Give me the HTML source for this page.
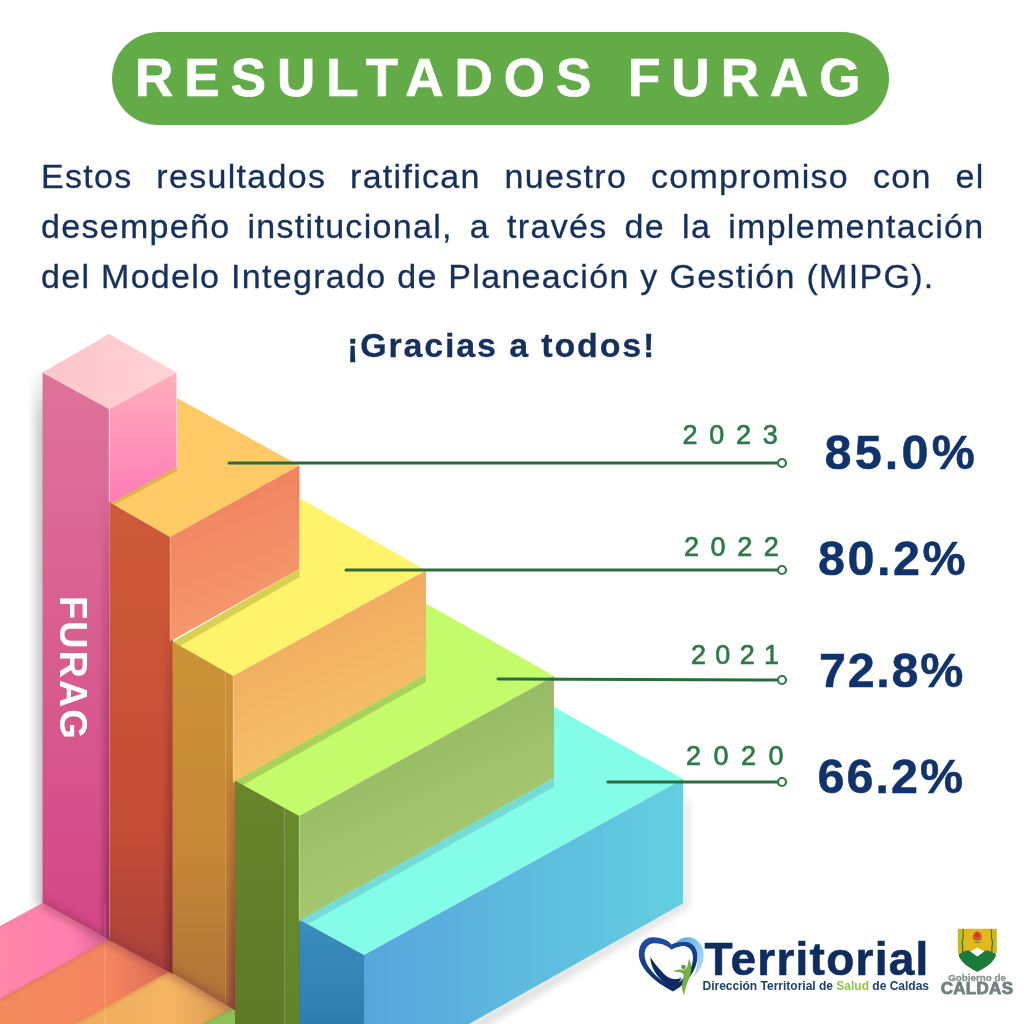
<!DOCTYPE html>
<html lang="es">
<head>
<meta charset="utf-8">
<title>Resultados FURAG</title>
<style>
  html, body { margin: 0; padding: 0; background: #ffffff; }
  body { width: 1024px; height: 1024px; position: relative; overflow: hidden;
         font-family: "Liberation Sans", sans-serif; }
  #stairs { position: absolute; left: 0; top: 0; width: 1024px; height: 1024px; }
  .banner { position: absolute; left: 112px; top: 32px; width: 777px; height: 93px;
            border-radius: 47px; background: #62ab46; }
  .banner span { position: absolute; left: 23px; top: -1.5px; line-height: 93px; white-space: nowrap;
            color: #fff; font-weight: bold; font-size: 53px; letter-spacing: 11px; -webkit-text-stroke: 0.7px #fff; }
  .body { position: absolute; left: 41px; top: 150.6px; width: 943.5px; color: #14305f;
          font-size: 34px; line-height: 50.3px; text-align: justify; letter-spacing: 1.3px; -webkit-text-stroke: 0.3px #14305f; }
  .body .l { display: block; text-align: justify; text-align-last: justify; white-space: nowrap; }
  .body .last { text-align-last: left; }
  .thanks { position: absolute; left: 347px; top: 325px; color: #14305f; font-weight: bold;
          font-size: 34px; line-height: 40px; white-space: nowrap; letter-spacing: 1.85px; -webkit-text-stroke: 0.3px #14305f; }
  .year { position: absolute; color: #2d7a45; font-size: 27px; line-height: 28px; letter-spacing: 11px; white-space: nowrap; -webkit-text-stroke: 0.65px #2d7a45; }
  .pct { position: absolute; color: #11336b; -webkit-text-stroke: 0.5px #11336b; font-weight: bold; font-size: 48.5px; line-height: 48px; white-space: nowrap; letter-spacing: 3.5px; }
  .furag { position: absolute; color: #fff; font-size: 38px; line-height: 38px; letter-spacing: 1.9px; white-space: nowrap; font-weight: bold;
           transform-origin: 0 0; transform: rotate(90deg); left: 91.5px; top: 595.5px; }
  .terr { position: absolute; left: 704.5px; top: 930.5px; color: #0e2c5e; font-weight: bold; font-size: 46px; line-height: 56px; white-space: nowrap; letter-spacing: 1.25px; -webkit-text-stroke: 0.6px #0e2c5e; }
  .dts { position: absolute; left: 702.5px; top: 978px; color: #1c4272; font-weight: bold; font-size: 12px; line-height: 16px; white-space: nowrap; }
  .dts b { color: #8cc63f; }
  .gob { position: absolute; left: 939px; top: 972px; width: 76px; text-align: center; color: #87938f; -webkit-text-stroke: 0.3px #87938f; font-weight: bold; font-size: 9.8px; line-height: 12px; white-space: nowrap; }
  .cal { position: absolute; left: 936px; top: 980.3px; width: 82px; text-align: center; color: #72817e; font-weight: bold; font-size: 17px; line-height: 17px; white-space: nowrap; letter-spacing: 0.3px; -webkit-text-stroke: 0.8px #72817e; }
</style>
</head>
<body>

<svg id="stairs" width="1024" height="1024" viewBox="0 0 1024 1024">
  <defs>
    <linearGradient id="gPinkL" x1="0" y1="0" x2="0" y2="1"><stop offset="0" stop-color="#de7399"/><stop offset="1" stop-color="#d34686"/></linearGradient>
    <linearGradient id="gPinkR" gradientUnits="userSpaceOnUse" x1="0" y1="375" x2="0" y2="500"><stop offset="0" stop-color="#ffaebb"/><stop offset="1" stop-color="#ff7cb6"/></linearGradient>
    <linearGradient id="gPinkT" x1="0" y1="0" x2="1" y2="0"><stop offset="0" stop-color="#fcc4cb"/><stop offset="1" stop-color="#ffd3d6"/></linearGradient>
    <linearGradient id="gOrL" x1="0" y1="0" x2="0" y2="1"><stop offset="0" stop-color="#cd5a38"/><stop offset="0.7" stop-color="#c44d36"/><stop offset="1" stop-color="#a9413a"/></linearGradient>
    <linearGradient id="gOrR" x1="0" y1="0" x2="0.3" y2="1"><stop offset="0" stop-color="#ef7b5e"/><stop offset="1" stop-color="#f59b6c"/></linearGradient>
    <linearGradient id="gYeL" x1="0" y1="0" x2="0" y2="1"><stop offset="0" stop-color="#cc9336"/><stop offset="0.6" stop-color="#c38637"/><stop offset="1" stop-color="#ae7238"/></linearGradient>
    <linearGradient id="gYeR" x1="0" y1="0" x2="0.4" y2="1"><stop offset="0" stop-color="#eea05d"/><stop offset="1" stop-color="#f6c469"/></linearGradient>
    <linearGradient id="gGrL" x1="0" y1="0" x2="0" y2="1"><stop offset="0" stop-color="#67862c"/><stop offset="1" stop-color="#5d7a27"/></linearGradient>
    <linearGradient id="gGrR" x1="0" y1="0" x2="0.5" y2="1"><stop offset="0" stop-color="#8db35e"/><stop offset="1" stop-color="#aacb72"/></linearGradient>
    <linearGradient id="gCyL" x1="0" y1="0" x2="0" y2="1"><stop offset="0" stop-color="#3a8dbd"/><stop offset="1" stop-color="#2f7dad"/></linearGradient>
    <linearGradient id="gCyR" x1="0" y1="0" x2="1" y2="0"><stop offset="0" stop-color="#58a5dc"/><stop offset="1" stop-color="#63cfe0"/></linearGradient>
    <linearGradient id="gShL" x1="0" y1="0" x2="1" y2="0"><stop offset="0" stop-color="#000" stop-opacity="0"/><stop offset="1" stop-color="#000" stop-opacity="0.22"/></linearGradient>
    <linearGradient id="gRefP" x1="1" y1="0" x2="0" y2="0"><stop offset="0" stop-color="#e0689a"/><stop offset="0.35" stop-color="#ff7fae"/><stop offset="1" stop-color="#ff85a8"/></linearGradient>
    <linearGradient id="gRefO" x1="1" y1="0" x2="0" y2="0"><stop offset="0" stop-color="#d96a55"/><stop offset="0.35" stop-color="#f5855f"/><stop offset="1" stop-color="#f28a5a"/></linearGradient>
    <linearGradient id="gRefY" x1="1" y1="0" x2="0" y2="0"><stop offset="0" stop-color="#d99a50"/><stop offset="0.4" stop-color="#f3b463"/><stop offset="1" stop-color="#f0ac5e"/></linearGradient>
    <linearGradient id="gAO" x1="0" y1="0" x2="1" y2="0"><stop offset="0" stop-color="#501030" stop-opacity="0"/><stop offset="1" stop-color="#501030" stop-opacity="0.55"/></linearGradient>
    <linearGradient id="gFade" x1="0" y1="0" x2="0" y2="1"><stop offset="0" stop-color="#000"/><stop offset="0.1" stop-color="#fff"/><stop offset="0.97" stop-color="#fff"/><stop offset="1" stop-color="#000"/></linearGradient>
    <mask id="mFade" maskUnits="userSpaceOnUse" x="0" y="360" width="60" height="560"><rect x="0" y="366" width="60" height="548" fill="url(#gFade)"/></mask>
    <linearGradient id="gV1" gradientUnits="userSpaceOnUse" x1="0" y1="490" x2="0" y2="940"><stop offset="0" stop-color="#000"/><stop offset="0.15" stop-color="#555"/><stop offset="1" stop-color="#fff"/></linearGradient>
    <linearGradient id="gV2" gradientUnits="userSpaceOnUse" x1="0" y1="620" x2="0" y2="972"><stop offset="0" stop-color="#000"/><stop offset="0.15" stop-color="#555"/><stop offset="1" stop-color="#fff"/></linearGradient>
    <linearGradient id="gV3" gradientUnits="userSpaceOnUse" x1="0" y1="760" x2="0" y2="1010"><stop offset="0" stop-color="#000"/><stop offset="0.15" stop-color="#555"/><stop offset="1" stop-color="#fff"/></linearGradient>
    <mask id="mV1" maskUnits="userSpaceOnUse" x="80" y="470" width="40" height="480"><rect x="80" y="470" width="40" height="480" fill="url(#gV1)"/></mask>
    <mask id="mV2" maskUnits="userSpaceOnUse" x="140" y="590" width="40" height="400"><rect x="140" y="590" width="40" height="400" fill="url(#gV2)"/></mask>
    <mask id="mV3" maskUnits="userSpaceOnUse" x="200" y="730" width="40" height="300"><rect x="200" y="730" width="40" height="300" fill="url(#gV3)"/></mask>
    <filter id="blur6" x="-20%" y="-20%" width="140%" height="140%"><feGaussianBlur stdDeviation="4"/></filter>
    <filter id="blur1" x="-20%" y="-20%" width="140%" height="140%"><feGaussianBlur stdDeviation="1.2"/></filter>
    <filter id="blur2" x="-20%" y="-20%" width="140%" height="140%"><feGaussianBlur stdDeviation="3.5"/></filter>
  </defs>

  <!-- soft shadows -->
  <polygon points="683,795 688,802 688,906 478,1030 460,1030 683,902" fill="#000" opacity="0.16" filter="url(#blur6)"/>
  <rect x="28" y="366" width="15" height="548" fill="url(#gShL)" mask="url(#mFade)"/>

  <!-- floor reflections -->
  <polygon points="42.5,903 109,940 0,1000 0,926" fill="url(#gRefP)"/>
  <polygon points="109,939 170,972 76,1024 0,1024 0,999" fill="url(#gRefO)"/>
  <polygon points="170,971 233,1008 204,1024 74,1024" fill="url(#gRefY)"/>
  <polygon points="233,1007 262,1024 202,1024" fill="#8fbf5a"/>
  <g stroke-width="2.5" opacity="0.35" filter="url(#blur1)" fill="none">
    <line x1="109" y1="940" x2="0" y2="1000" stroke="#c05a70"/>
    <line x1="170" y1="972" x2="76" y2="1024" stroke="#c06a40"/>
    <line x1="233" y1="1008" x2="204" y2="1024" stroke="#a08040"/>
  </g>

  <!-- pink column -->
  <polygon points="42.5,372.5 109,409 111,409 111,941 42.5,903" fill="url(#gPinkL)"/>
  <polygon points="99,480 111,480 111,941 99,934.3" fill="url(#gAO)" mask="url(#mV1)"/>
  <polygon points="109,409 176.5,372.5 176.5,480 109.5,510" fill="url(#gPinkR)"/>
  <line x1="109.3" y1="409" x2="109.3" y2="502" stroke="#fff" stroke-width="1" opacity="0.85"/>
  <polygon points="109,334 42.5,372.5 109,409 176.5,372.5" fill="url(#gPinkT)"/>

  <!-- orange step -->
  <polygon points="111,503 170,537 299.5,465.5 177,398 177,467" fill="#fdca66"/>
  <polygon points="111,503 177,467 177,471 114,505" fill="#dcb646"/>
  <polygon points="109,502 170,537 173,537 173,974 109,940" fill="url(#gOrL)"/>
  <polygon points="162,600 173,600 173,974 162,967.8" fill="url(#gAO)" mask="url(#mV2)"/>
  <polygon points="170,537 299.5,465.5 299.5,569 170,641.5" fill="url(#gOrR)"/>
  <line x1="170.3" y1="537" x2="170.3" y2="640" stroke="#ffb08a" stroke-width="1" opacity="0.8"/>

  <line x1="109.6" y1="503" x2="109.6" y2="939" stroke="#f3a08c" stroke-width="1" opacity="0.6"/>
  <!-- yellow step -->
  <polygon points="172.5,642 233,676 426,570.5 299.5,498 299.5,569" fill="#fff36c"/>
  <polygon points="172.5,642 299.5,569 299.5,577 180,646" fill="#d9cf52"/>
  <polygon points="172.5,641.5 233,676 236,676 236,1011 172.5,973" fill="url(#gYeL)"/>
  <polygon points="224,740 236,740 236,1011 224,1004" fill="url(#gAO)" mask="url(#mV3)"/>
  <polygon points="233,676 426,570.5 426,674 233,783" fill="url(#gYeR)"/>
  <line x1="233.3" y1="676" x2="233.3" y2="780" stroke="#ffd08a" stroke-width="1" opacity="0.8"/>

  <!-- green step -->
  <polygon points="235,781 299,816 554,676 426,603.5 426,674" fill="#c4fb6b"/>
  <polygon points="235,781 426,674 426,682 243,785" fill="#a9d25b"/>
  <polygon points="235,780.5 299,816 301,816 301,1024 235,1024" fill="url(#gGrL)"/>
  <polygon points="285,808.3 299,816 299,1024 285,1024" fill="#6a8c2c" opacity="0.55"/>
  <polygon points="299,816 554,676 554,778 299,922" fill="url(#gGrR)"/>
  <line x1="299.3" y1="816" x2="299.3" y2="919" stroke="#c6e08a" stroke-width="1" opacity="0.8"/>

  <!-- cyan step -->
  <polygon points="300,920 364,955 683,779 554,707 554,778" fill="#84fde8"/>
  <polygon points="300,920 554,778 554,787 308,924" fill="#74dcd4"/>
  <polygon points="300,920 364,955 364,1024 300,1024" fill="url(#gCyL)"/>
  <polygon points="364,955 683,779 683,903.5 469,1024 364,1024" fill="url(#gCyR)"/>

  <g stroke="#fff" stroke-width="1" opacity="0.2">
    <line x1="225.5" y1="672" x2="225.5" y2="1004"/>
    <line x1="284.5" y1="808" x2="284.5" y2="1024"/>
    <line x1="105" y1="905" x2="105" y2="1024"/>
  </g>
  <polyline points="42.5,903 109,940 170,972 232,1007.5" fill="none" stroke="#7a3040" stroke-width="9" opacity="0.35" filter="url(#blur2)"/>
  <!-- leader lines -->
  <g stroke="#2b6b3d" stroke-width="3" stroke-linecap="round" fill="none">
    <line x1="229" y1="463" x2="777" y2="463"/>
    <line x1="346" y1="570" x2="777" y2="570"/>
    <line x1="498" y1="679" x2="777" y2="680"/>
    <line x1="608" y1="782" x2="777" y2="782"/>
  </g>
  <g stroke="#2d7a45" stroke-width="2.2" fill="#fff">
    <circle cx="782" cy="463" r="4"/>
    <circle cx="782" cy="570" r="4"/>
    <circle cx="782" cy="680" r="4"/>
    <circle cx="782" cy="782" r="4"/>
  </g>

  <!-- Territorial heart logo -->
  <defs>
    <linearGradient id="gHeart" x1="0" y1="0" x2="0.3" y2="1"><stop offset="0" stop-color="#2152a8"/><stop offset="1" stop-color="#0d2a66"/></linearGradient>
    <linearGradient id="gCres" x1="0" y1="0" x2="1" y2="0.6"><stop offset="0" stop-color="#4aa3e6"/><stop offset="1" stop-color="#a6d8f6"/></linearGradient>
  </defs>
  <g id="heartlogo">
    <path d="M674,945 C677,940.5 683,936.8 689,937.3 C697.5,938.2 703.8,945.5 703.7,955 C703.6,963.5 699.5,971.5 693.5,977 C697,969 698.8,960 697,952.5 C695,944.5 689,940.5 683,941.3 C679,941.8 676,943.2 674,945 Z" fill="url(#gCres)"/>
    <path fill-rule="evenodd" fill="url(#gHeart)" d="M671.5,944.5 C668,939.8 660,936.8 651.5,937.3 C643.5,938 638.6,945.5 638.8,954.5 C639.2,968 654,981.5 673,991.5 C680,987.5 689,980 693.5,971 C697,964.5 698.5,957 696.5,950.5 C694.5,944 688.5,941 683,941.5 C678,942 674,943 671.5,944.5 Z M671.5,949.8 C668.5,945.8 661,942.8 653.5,943.2 C647.5,943.8 644.4,949 644.6,955.5 C645,966 656,978.5 672.8,987.3 C680,982 688,975 691,967.5 C693.5,961.5 693.5,955 691.5,951 C689.5,947 685.5,945.5 682,946 C677.5,946.8 674,947.8 671.5,949.8 Z"/>
    <path d="M650.5,957 C650,968 659.5,981.5 672.8,987.6 C676.5,985.5 679.5,982.5 681.8,977.5 C676,980.5 669,979.5 663.5,973.5 C658,967.5 653,962 650.5,957 Z" fill="#0d2a66"/>
    <path d="M689,958.5 C691.6,964 692.2,971 689.6,977 C687.5,982.5 685,988 684,995.5 C681.6,990 681.4,984 683.2,978.5 C684.2,975 683.5,973.2 680.5,972.4 C678,971.7 675.5,971.5 672.8,972 C675.5,969.8 679,969.1 682,969.7 C685,970.3 686.6,969 687.4,966 C688.1,963.5 688.6,961 689,958.5 Z" fill="#76b043"/>
    <circle cx="683.5" cy="967" r="2.3" fill="#5b963f"/>
  </g>

  <!-- Caldas shield -->
  <defs>
    <clipPath id="cShield"><path d="M957.8,928.7 H996.8 V950 C996.8,960 988,966.5 977.3,971.8 C966.5,966.5 957.8,960 957.8,950 Z"/></clipPath>
    <linearGradient id="gShY" x1="0" y1="0" x2="1" y2="0"><stop offset="0" stop-color="#c4b62c"/><stop offset="0.16" stop-color="#cdb727"/><stop offset="0.2" stop-color="#e2b81a"/><stop offset="0.8" stop-color="#e2b81a"/><stop offset="0.84" stop-color="#cdb727"/><stop offset="1" stop-color="#c4b62c"/></linearGradient>
  </defs>
  <g clip-path="url(#cShield)">
    <rect x="957" y="928" width="41" height="45" fill="url(#gShY)"/>
    <path d="M963.8,929 C961.5,933 964.5,936 962.5,940 C960.8,944 964,947 962.5,952" stroke="#3c6a2c" stroke-width="1.1" fill="none"/>
    <path d="M990.8,929 C993.1,933 990.1,936 992.1,940 C993.8,944 990.6,947 992.1,952" stroke="#3c6a2c" stroke-width="1.1" fill="none"/>
    <path d="M956,957 C960,953.5 964,950.5 967.5,950.5 C970,950.5 972,952.5 977.3,956.3 C982.6,952.5 984.6,950.5 987.1,950.5 C990.6,950.5 994.6,953.5 998.6,957 V973 H956 Z" fill="#1d7a3d"/>
    <path d="M977.3,947.6 L984.2,951.6 L977.3,956.5 L970.4,951.6 Z" fill="#ffffff"/>
    <path d="M977.3,931.2 C979.6,931.2 981.8,934 981.8,937.2 C981.8,939.6 979.8,940.8 977.3,940.8 C974.8,940.8 972.8,939.6 972.8,937.2 C972.8,934 975,931.2 977.3,931.2 Z" fill="#e0512f"/>
    <path d="M977.3,932.5 C978.3,932.5 979.4,934.3 979.4,936 C979.4,937.2 978.4,937.8 977.3,937.8 C976.2,937.8 975.2,937.2 975.2,936 C975.2,934.3 976.3,932.5 977.3,932.5 Z" fill="#c43c2a"/>
    <path d="M972.8,942.6 C975,941.6 979.6,941.6 981.8,942.6 C979.6,943.2 975,943.2 972.8,942.6 Z" fill="#5f8f2c"/>
  </g>
</svg>

<div class="banner"><span>RESULTADOS FURAG</span></div>

<div class="body">
  <span class="l">Estos resultados ratifican nuestro compromiso con el</span>
  <span class="l">desempeño institucional, a través de la implementación</span>
  <span class="l last">del Modelo Integrado de Planeación y Gestión (MIPG).</span>
</div>
<div class="thanks">¡Gracias a todos!</div>

<div class="furag">FURAG</div>

<div class="year" id="y23" style="left:682.5px; top:421px; letter-spacing:11.7px;">2023</div>
<div class="year" id="y22" style="left:684px; top:533px; letter-spacing:11.6px;">2022</div>
<div class="year" id="y21" style="left:691px; top:641px; letter-spacing:9.3px;">2021</div>
<div class="year" id="y20" style="left:686px; top:742px; letter-spacing:12.5px;">2020</div>

<div class="pct" id="p85" style="left:824.5px; top:428px; letter-spacing:3.2px;">85.0%</div>
<div class="pct" id="p80" style="left:818px; top:534px; letter-spacing:2.5px;">80.2%</div>
<div class="pct" id="p72" style="left:819px; top:646px; letter-spacing:1.7px;">72.8%</div>
<div class="pct" id="p66" style="left:817.5px; top:752px; letter-spacing:2.0px;">66.2%</div>

<div class="terr">Territorial</div>
<div class="dts">Dirección Territorial de <b>Salud</b> de Caldas</div>
<div class="gob">Gobierno de</div>
<div class="cal">CALDAS</div>

</body>
</html>
